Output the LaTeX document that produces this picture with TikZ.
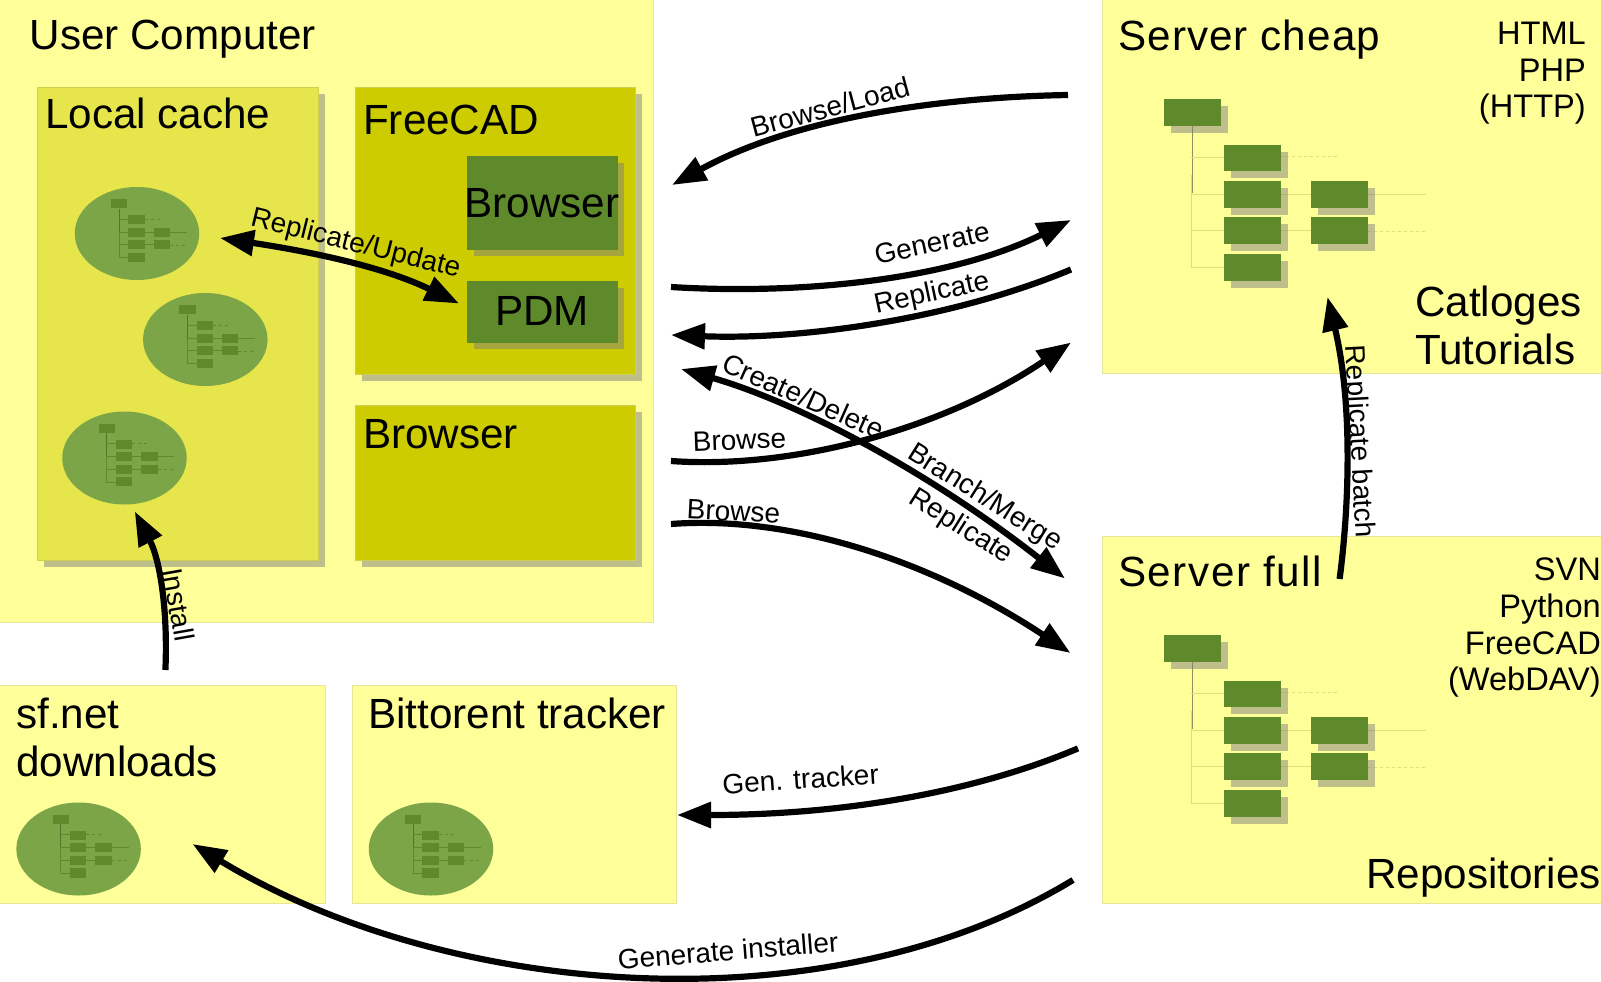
\documentclass[tikz,border=0pt]{standalone}
\usepackage{fontspec}
\setmainfont{Liberation Sans}
\usetikzlibrary{arrows.meta,shapes.geometric}
\definecolor{paleY}{HTML}{FFFF99}
\definecolor{paleB}{HTML}{E6E699}
\definecolor{midY}{HTML}{E6E64C}
\definecolor{midB}{HTML}{CFCF50}
\definecolor{deepY}{HTML}{CCCC00}
\definecolor{leaf}{HTML}{5E8A2B}
\definecolor{blob}{HTML}{7CA547}
\definecolor{faint}{HTML}{DEDE80}
\definecolor{trunk}{HTML}{8F8F60}
\newcommand{\treeart}[3]{%
  \draw[line width=.7pt,#2] (27.3,76) -- (27.3,168);
  \draw[line width=.7pt,#3] (28.3,26.7) -- (28.3,94);
  \draw[line width=.7pt,#2] (27.3,57.7) -- (60,57.7);
  \draw[line width=.7pt,#2] (27.3,95) -- (147,95);
  \draw[line width=.7pt,#2] (203.7,95) -- (262,95);
  \draw[line width=.7pt,#2] (27.3,131) -- (147,131);
  \draw[line width=.7pt,#2] (27.3,168) -- (60,168);
  \draw[line width=.7pt,#2,dashed] (116,56.7) -- (175,56.7);
  \draw[line width=.7pt,#2,dashed] (203.7,132) -- (262,132);
  \foreach \xa/\ya in {0/0,60/45.4,60/81.7,60/118,60/154.7,147/81.7,147/118}{
    \fill[black!50,opacity=#1] (\xa+7,\ya+7) rectangle ++(56.7,26.5);
    \fill[leaf] (\xa,\ya) rectangle ++(56.7,26.5);
  }
}
\tikzset{
  paper/.style={fill=paleY,draw=paleB,line width=1pt},
  cachebox/.style={fill=midY,draw=midB,line width=1pt},
  appbox/.style={fill=deepY,draw=midB,line width=1pt},
  toolbox/.style={fill=leaf,draw=leaf,line width=1pt},
  drop/.style={fill=black!50,opacity=.5},
  blobshape/.style={ellipse,fill=blob,draw=none,minimum width=124.5pt,minimum height=93pt,inner sep=0pt},
  big/.style={font=\fontsize{42.2}{47}\selectfont,inner sep=0pt,anchor=base west},
  bigc/.style={font=\fontsize{42.2}{47}\selectfont,inner sep=0pt,anchor=base},
  bigr/.style={font=\fontsize{42.2}{47}\selectfont,inner sep=0pt,anchor=base east},
  note/.style={font=\fontsize{32.6}{37}\selectfont,inner sep=0pt,anchor=base east},
  tag/.style={font=\fontsize{28}{30}\selectfont,inner sep=0pt,anchor=center},
  flow/.style={line width=6.2pt,-{Triangle[length=34pt,width=25pt]}},
  flowboth/.style={line width=6.2pt,{Triangle[length=34pt,width=25pt]}-{Triangle[length=34pt,width=25pt]}},
}
\begin{document}
\begin{tikzpicture}[x=1pt,y=-1pt]
\useasboundingbox (0,0) rectangle (1601,982);
\fill[white] (0,0) rectangle (1601,982);
% panels
\draw[paper] (-1,-1) rectangle (653,622);
\draw[paper] (-1,685) rectangle (325,903);
\draw[paper] (352,685) rectangle (676,903);
\draw[paper] (1102,-1) rectangle (1602,373);
\draw[paper] (1102,536) rectangle (1602,903);
% local cache
\fill[drop] (44,94) rectangle (325,567);
\draw[cachebox] (37,87) rectangle (318,560);
% FreeCAD
\fill[drop] (362,94) rectangle (642,381);
\draw[appbox] (355,87) rectangle (635,374);
\fill[drop] (474,163) rectangle (624,256);
\draw[toolbox] (467,156) rectangle (617,249);
\fill[drop] (474,288) rectangle (624,349);
\draw[toolbox] (467,281) rectangle (617,342);
% Browser
\fill[drop] (362,412) rectangle (642,567);
\draw[appbox] (355,405) rectangle (635,560);
% trees
\begin{scope}[shift={(1164,99.3)}]\treeart{.5}{faint}{trunk}\end{scope}
\begin{scope}[shift={(1164,635.3)}]\treeart{.5}{faint}{trunk}\end{scope}
% blobs
\node[blobshape] (blobA) at (137,233.5) {};
\node[blobshape] (blobB) at (205.3,339.5) {};
\node[blobshape] (blobC) at (124.5,458) {};
\node[blobshape] (blobD) at (78.6,849) {};
\node[blobshape] (blobE) at (431,849) {};
\foreach \cx/\cy in {137/233.5,205.3/339.5,124.5/458,78.6/849,431/849}{
  \begin{scope}[shift={(\cx-26,\cy-34.2)},xscale=.29,yscale=.346]\treeart{0}{leaf}{leaf!85!black}\end{scope}
}
% titles
\node[big] (tUser) at (29.5,50) {User Computer};
\node[big] (tCache) at (45,128.5) {Local cache};
\node[big] (tFree) at (363,134.5) {FreeCAD};
\node[bigc] (tInBrowser) at (542,217.5) {Browser};
\node[bigc] (tPdm) at (542,325.7) {PDM};
\node[big] (tBrowser) at (363,448.5) {Browser};
\node[big] (tCheap) at (1118,50.5) {\addfontfeature{LetterSpace=2.6}Server cheap};
\node[note] (nHtml) at (1586,44.3) {HTML};
\node[note] (nPhp) at (1586,81.3) {PHP};
\node[note] (nHttp) at (1586,117.3) {(HTTP)};
\node[big] (tCat) at (1415,316.5) {Catloges};
\node[big] (tTut) at (1415,364) {Tutorials};
\node[big] (tFull) at (1118,586) {\addfontfeature{LetterSpace=3.6}Server full};
\node[note] (nSvn) at (1601,580.5) {SVN};
\node[note] (nPy) at (1601,617.5) {Python};
\node[note] (nFc) at (1601,654) {FreeCAD};
\node[note] (nDav) at (1601,690.5) {(WebDAV)};
\node[bigr] (tRepo) at (1601,888) {Repositories};
\node[big] (tSf) at (16,728.5) {sf.net};
\node[big] (tDown) at (16,776) {downloads};
\node[big] (tBit) at (368,728.5) {Bittorent tracker};
% connector ends
\coordinate (a1) at (1068,95);   \coordinate (a2) at (672,185);
\coordinate (b1) at (671,287);   \coordinate (b2) at (1071,220);
\coordinate (c1) at (1071,269.5);\coordinate (c2) at (671,335);
\coordinate (d1) at (671,461);   \coordinate (d2) at (1071,342.5);
\coordinate (f1) at (671,524);   \coordinate (f2) at (1070.5,653);
\coordinate (g1) at (681,369);   \coordinate (g2) at (1065,578.5);
\coordinate (h1) at (220,238); \coordinate (h2) at (459,303.5);
\coordinate (i1) at (1339.6,579);\coordinate (i2) at (1327.5,297);
\coordinate (j1) at (165.4,670); \coordinate (j2) at (134.8,511.5);
\coordinate (k1) at (1078,748.4);\coordinate (k2) at (677,815);
\coordinate (m1) at (1073,880);  \coordinate (m2) at (192.5,844);
% connectors
\draw[flow] (a1) .. controls (950,97) and (800,115) .. (a2);
\draw[flow] (b1) .. controls (800,295) and (950,280) .. (b2);
\draw[flow] (c1) .. controls (950,320) and (800,340) .. (c2);
\draw[flow] (d1) .. controls (800,470) and (950,425) .. (d2);
\draw[flow] (f1) .. controls (790,515) and (930,560) .. (f2);
\draw[flowboth] (g1) .. controls (790,400) and (920,465) .. (g2);
\draw[flowboth] (h1) .. controls (300,250) and (380,265) .. (h2);
\draw[flow] (i1) .. controls (1350,500) and (1352,400) .. (i2);
\draw[flow] (j1) .. controls (168,610) and (160,560) .. (j2);
\draw[flow] (k1) .. controls (980,790) and (850,815) .. (k2);
\draw[flow] (m1) .. controls (830,1028) and (450,1000) .. (m2);
% labels
\node[tag,rotate=15] (lLoad) at (830,107) {Browse/Load};
\node[tag,rotate=12] (lGen) at (932,243) {Generate};
\node[tag,rotate=12] (lRep) at (932,294) {Replicate};
\node[tag,rotate=2] (lBrA) at (739.5,440) {Browse};
\node[tag,rotate=-3] (lBrB) at (733.5,511.5) {Browse};
\node[tag,rotate=-24] (lCreate) at (803.5,396) {Create/Delete};
\node[tag,rotate=-32] (lBranch) at (984.5,498) {Branch/Merge};
\node[tag,rotate=-32] (lRepB) at (960.5,527) {Replicate};
\node[tag,rotate=-14] (lUpd) at (355.5,244.5) {Replicate/Update};
\node[tag,rotate=-87] (lBatch) at (1358,441.5) {Replicate batch};
\node[tag,rotate=-80] (lInst) at (178.7,604.5) {Install};
\node[tag,rotate=4] (lTrack) at (800.5,779) {Gen. tracker};
\node[tag,rotate=4.5] (lInstaller) at (728,950.5) {Generate installer};
\end{tikzpicture}
\end{document}
